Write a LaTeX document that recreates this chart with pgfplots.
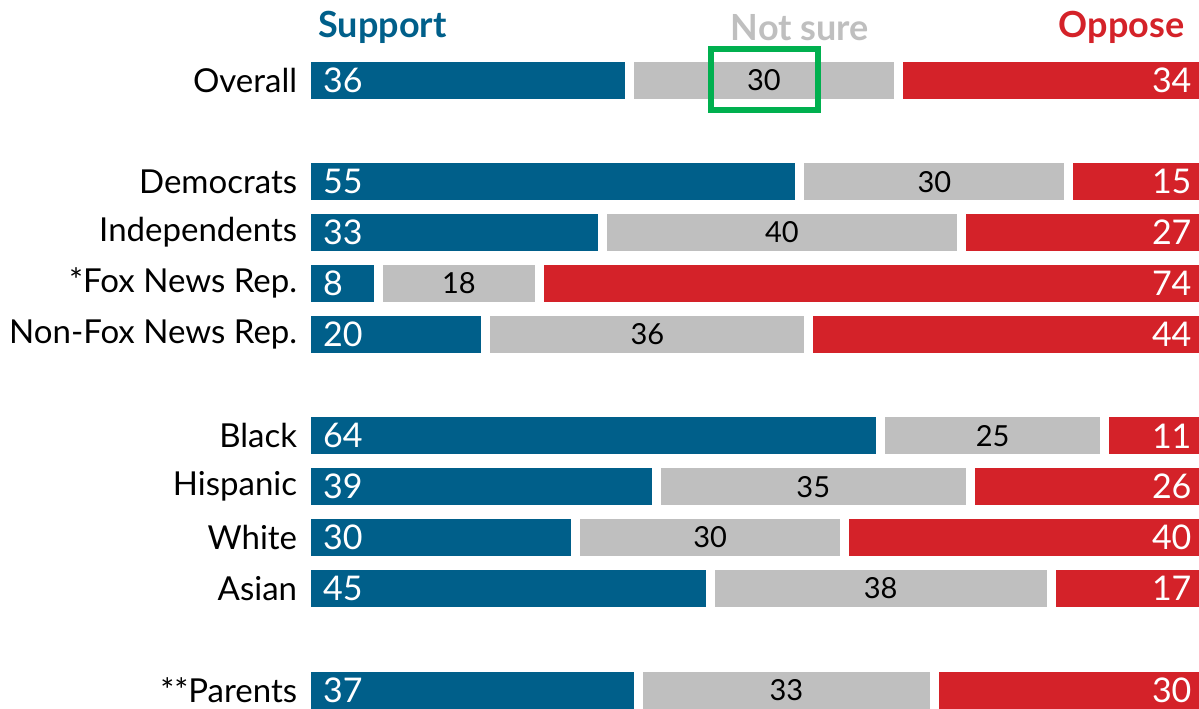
\documentclass[border=0pt]{standalone}
\usepackage{pgfplots}
\pgfplotsset{compat=1.18}
\usepackage{pgfplotstable}
\usepackage{fontspec}
\setmainfont{Lato}
\definecolor{sup}{HTML}{005F8A}
\definecolor{uns}{HTML}{BFBFBF}
\definecolor{opp}{HTML}{D42229}
\definecolor{hl}{HTML}{00B04F}

\pgfplotstableread{
pos s n o label
0 36 30 34 Overall
2 55 30 15 Democrats
3 33 40 27 Independents
4 8 18 74 {*Fox News Rep.}
5 20 36 44 {Non-Fox News Rep.}
7 64 25 11 Black
8 39 35 26 Hispanic
9 30 30 40 White
10 45 38 17 Asian
12 37 33 30 {**Parents}
}\data

\pgfplotsset{base/.style={
  scale only axis, width=448.5pt, height=354.25pt,
  xmin=0, xmax=100, ymin=-1.574, ymax=12.364, y dir=reverse,
  clip=false, /pgf/number format/assume math mode=true}}

\begin{document}
\begin{tikzpicture}
\begin{axis}[base,
    xbar stacked, bar width=23pt,
    axis line style={draw=none}, tick style={draw=none},
    xtick=\empty, ytick=data,
    yticklabels from table={\data}{label},
    yticklabel style={font=\fontsize{16.5}{19}\selectfont, inner sep=0pt, xshift=-4.5pt},
]
\addplot[fill=sup, draw=white, line width=4.5pt] table[x=s, y=pos] {\data};
\addplot[fill=uns, draw=white, line width=4.5pt] table[x=n, y=pos] {\data};
\addplot[fill=opp, draw=white, line width=4.5pt] table[x=o, y=pos] {\data};
\coordinate (bl) at ([xshift=-153.25pt]axis cs:0,12.364);
\coordinate (tr) at ([xshift=-2.25pt]axis cs:100,-1.574);
\end{axis}
\begin{axis}[base, hide axis,
    nodes near coords={\pgfmathprintnumber{\pgfplotspointmeta}},
    point meta=explicit]
\addplot[draw=none, nodes near coords style={anchor=west, inner sep=0pt, text=white, font=\fontsize{17}{20}\selectfont}]
  table[x expr=1.8, y=pos, meta=s] {\data};
\addplot[draw=none, nodes near coords style={anchor=center, inner sep=0pt, text=black, font=\fontsize{14.5}{17}\selectfont}]
  table[x expr=\thisrow{s}+\thisrow{n}/2, y=pos, meta=n] {\data};
\addplot[draw=none, nodes near coords style={anchor=east, inner sep=0pt, text=white, font=\fontsize{17}{20}\selectfont}]
  table[x expr=98.7, y=pos, meta=o] {\data};
\node[anchor=west, inner sep=0pt, text=sup, font=\bfseries\fontsize{18}{21}\selectfont] at (axis cs:1.28,-1.04) {Support};
\node[anchor=center, inner sep=0pt, text=uns, font=\bfseries\fontsize{18}{21}\selectfont] at (axis cs:55,-1.04) {Not sure};
\node[anchor=east, inner sep=0pt, text=opp, font=\bfseries\fontsize{18}{21}\selectfont] at (axis cs:97.9,-1.04) {Oppose};
\draw[hl, line width=3pt] (axis cs:45.04,-0.62) rectangle (axis cs:56.97,0.58);
\end{axis}
\pgfresetboundingbox
\path[use as bounding box] (bl) rectangle (tr);
\end{tikzpicture}
\end{document}
